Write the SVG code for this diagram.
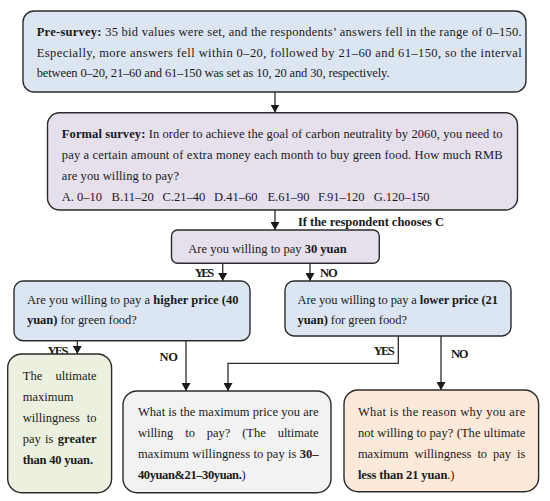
<svg xmlns="http://www.w3.org/2000/svg" width="550" height="501" viewBox="0 0 550 501">
<defs>
<style>
.box{stroke:#2b2b2b;stroke-width:1.4}
.blue{fill:#dce6f2}
.lav{fill:#e5e0ec}
.green{fill:#ebf1de}
.gray{fill:#f2f2f2}
.orange{fill:#fde9d9}
.t{font-family:"Liberation Serif","Times New Roman",serif;font-size:12.5px;fill:#1a1a1a}
.b{font-weight:bold}
.c{stroke:#2b2b2b;stroke-width:1.3;fill:none}
</style>
<marker id="ah" markerUnits="userSpaceOnUse" markerWidth="8" markerHeight="9" refX="8" refY="4.5" orient="auto">
<path d="M0,0 L8,4.5 L0,9 Z" fill="#1a1a1a"/>
</marker>
</defs>
<rect width="550" height="501" fill="#ffffff"/>

<g id="connectors">
<line class="c" x1="275" y1="92" x2="275" y2="112.5" marker-end="url(#ah)"/>
<line class="c" x1="275" y1="210" x2="275" y2="230" marker-end="url(#ah)"/>
<line class="c" x1="222.7" y1="263.3" x2="222.7" y2="281" marker-end="url(#ah)"/>
<line class="c" x1="310" y1="263.3" x2="310" y2="281" marker-end="url(#ah)"/>
<line class="c" x1="77.3" y1="340.7" x2="77.3" y2="354" marker-end="url(#ah)"/>
<line class="c" x1="186" y1="340.7" x2="186" y2="391" marker-end="url(#ah)"/>
<polyline class="c" points="398.3,336 398.3,363.3 228,363.3 228,391" marker-end="url(#ah)"/>
<line class="c" x1="441" y1="336" x2="441" y2="390" marker-end="url(#ah)"/>
<text class="t b" x="298" y="226" textLength="146" lengthAdjust="spacing">If the respondent chooses C</text>
<text class="t b" x="194.7" y="276.5" textLength="19.5" lengthAdjust="spacing">YES</text>
<text class="t b" x="320" y="276.5" textLength="17.7" lengthAdjust="spacing">NO</text>
<text class="t b" x="47.4" y="354.5" textLength="21" lengthAdjust="spacing">YES</text>
<text class="t b" x="159.6" y="361" textLength="18.4" lengthAdjust="spacing">NO</text>
<text class="t b" x="373.7" y="354.5" textLength="21" lengthAdjust="spacing">YES</text>
<text class="t b" x="451" y="357.5" textLength="17.4" lengthAdjust="spacing">NO</text>
</g>

<g id="pre-survey">
<rect class="box blue" x="23" y="11" width="503" height="81" rx="11"/>
<text class="t" x="36.7" y="36" textLength="485" lengthAdjust="spacing"><tspan class="b">Pre-survey:</tspan> 35 bid values were set, and the respondents’ answers fell in the range of 0–150.</text>
<text class="t" x="36.7" y="56.5" textLength="485" lengthAdjust="spacing">Especially, more answers fell within 0–20, followed by 21–60 and 61–150, so the interval</text>
<text class="t" x="36.7" y="77" textLength="352.8" lengthAdjust="spacing">between 0–20, 21–60 and 61–150 was set as 10, 20 and 30, respectively.</text>
</g>

<g id="formal-survey">
<rect class="box lav" x="47.5" y="112.7" width="470" height="97.3" rx="12"/>
<text class="t" x="61.8" y="138" textLength="440.7" lengthAdjust="spacing"><tspan class="b">Formal survey:</tspan> In order to achieve the goal of carbon neutrality by 2060, you need to</text>
<text class="t" x="61.8" y="158.5" textLength="440.7" lengthAdjust="spacing">pay a certain amount of extra money each month to buy green food. How much RMB</text>
<text class="t" x="61.8" y="180" textLength="117.2" lengthAdjust="spacing">are you willing to pay?</text>
<text class="t" y="201"><tspan x="61.8">A. 0–10</tspan><tspan x="111.6">B.11–20</tspan><tspan x="162.5">C.21–40</tspan><tspan x="214">D.41–60</tspan><tspan x="267.4">E.61–90</tspan><tspan x="318">F.91–120</tspan><tspan x="373.7">G.120–150</tspan></text>
</g>

<g id="q30">
<rect class="box lav" x="171.5" y="230" width="207.8" height="33.3" rx="6"/>
<text class="t" x="188.3" y="252.5" textLength="158.4" lengthAdjust="spacing">Are you willing to pay <tspan class="b">30 yuan</tspan></text>
</g>

<g id="q40">
<rect class="box blue" x="14" y="281" width="236" height="59.7" rx="9"/>
<text class="t" x="27" y="304" textLength="211.6" lengthAdjust="spacing">Are you willing to pay a <tspan class="b">higher price (40</tspan></text>
<text class="t" x="27" y="324" textLength="109.8" lengthAdjust="spacing"><tspan class="b">yuan)</tspan> for green food?</text>
</g>

<g id="q21">
<rect class="box blue" x="285" y="281" width="226" height="55" rx="9"/>
<text class="t" x="297.5" y="304" textLength="200.5" lengthAdjust="spacing">Are you willing to pay a <tspan class="b">lower price (21</tspan></text>
<text class="t" x="297.5" y="324" textLength="109.5" lengthAdjust="spacing"><tspan class="b">yuan)</tspan> for green food?</text>
</g>

<g id="result-greater">
<rect class="box green" x="7.7" y="354" width="103.9" height="138.7" rx="14"/>
<text class="t" x="22.8" y="379.7">The</text>
<text class="t" x="96.5" y="379.7" text-anchor="end">ultimate</text>
<text class="t" x="22.8" y="400.7">maximum</text>
<text class="t" x="22.8" y="421.7">willingness</text>
<text class="t" x="96.5" y="421.7" text-anchor="end">to</text>
<text class="t" y="443"><tspan x="22.8">pay</tspan><tspan x="45">is</tspan></text>
<text class="t b" x="96.5" y="443" text-anchor="end">greater</text>
<text class="t b" x="22.8" y="464" textLength="70.2" lengthAdjust="spacing">than 40 yuan.</text>
</g>

<g id="max-price">
<rect class="box gray" x="123" y="391" width="208" height="101.7" rx="14"/>
<text class="t" x="137.9" y="415.7" textLength="180.7" lengthAdjust="spacing">What is the maximum price you are</text>
<text class="t" y="436.7"><tspan x="137.9">willing</tspan><tspan x="185.2">to</tspan><tspan x="206.7">pay?</tspan><tspan x="242.2">(The</tspan></text>
<text class="t" x="318.6" y="436.7" text-anchor="end">ultimate</text>
<text class="t" x="137.9" y="458" textLength="180.7" lengthAdjust="spacing">maximum willingness to pay is <tspan class="b">30–</tspan></text>
<text class="t" x="137.9" y="479" textLength="107.7" lengthAdjust="spacing"><tspan class="b">40yuan&amp;21–30yuan.</tspan>)</text>
</g>

<g id="reason">
<rect class="box orange" x="344" y="390" width="194.6" height="101.7" rx="14"/>
<text class="t" x="357.9" y="415.7" textLength="167.4" lengthAdjust="spacing">What is the reason why you are</text>
<text class="t" x="357.9" y="436.7" textLength="167.4" lengthAdjust="spacing">not willing to pay? (The ultimate</text>
<text class="t" y="458"><tspan x="357.9">maximum</tspan><tspan x="414.5">willingness</tspan><tspan x="477.4">to</tspan><tspan x="493">pay</tspan></text>
<text class="t" x="525.3" y="458" text-anchor="end">is</text>
<text class="t" x="357.9" y="479" textLength="96.5" lengthAdjust="spacing"><tspan class="b">less than 21 yuan</tspan>.)</text>
</g>
</svg>
